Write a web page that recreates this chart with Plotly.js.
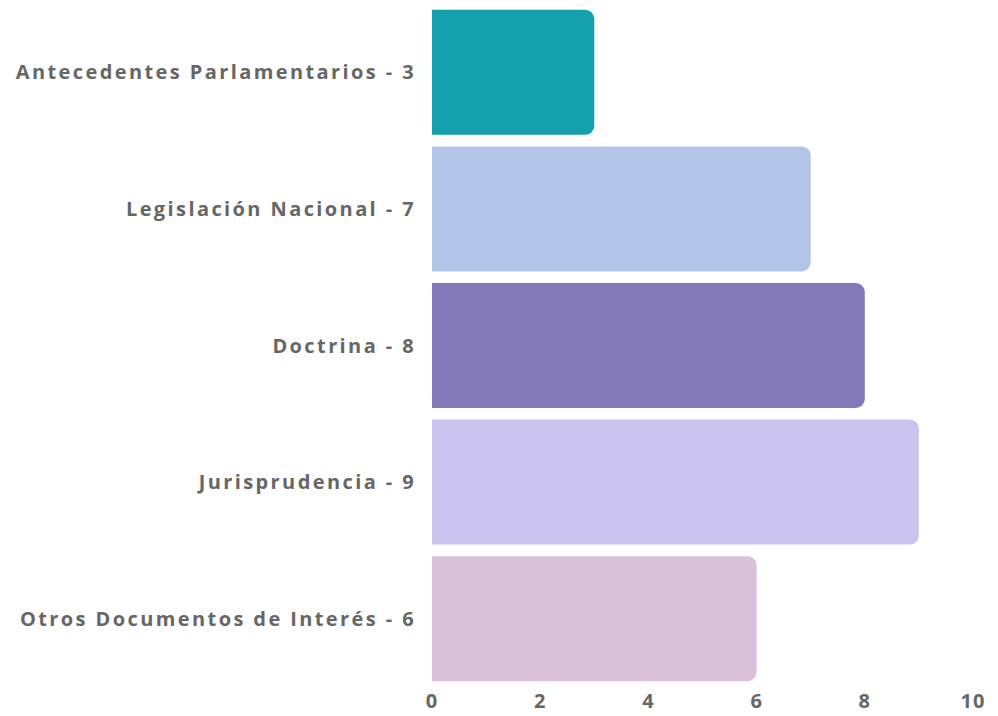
<!DOCTYPE html>
<html>
<head>
<meta charset="utf-8">
<script src="https://cdn.plot.ly/plotly-3.0.1.min.js"></script>
<style>
html,body{margin:0;padding:0;background:#fff;}
#chart{width:998px;height:716px;}
#chart .ytick text{letter-spacing:2.4px;}
#chart .xtick text{letter-spacing:1px;}
</style>
</head>
<body>
<div id="chart"></div>
<script>
const categories = ["Antecedentes Parlamentarios", "Legislación Nacional", "Doctrina", "Jurisprudencia", "Otros Documentos de Interés"];
const values = [3, 7, 8, 9, 6];
const colors = ["#15A0AD", "#B2C5E6", "#8479B8", "#CBC4EE", "#D9C1D9"];
const xTicks = [0, 2, 4, 6, 8, 10];
const labels = categories.map((c, i) => c + " - " + values[i]);

const trace = {
  type: "bar",
  orientation: "h",
  y: categories,
  x: values,
  marker: { color: colors, cornerradius: 9 },
  hoverinfo: "x+y"
};

const layout = {
  width: 998,
  height: 716,
  margin: { l: 432, r: 25, t: 4, b: 29 },
  paper_bgcolor: "#ffffff",
  plot_bgcolor: "#ffffff",
  bargap: 0.085,
  showlegend: false,
  font: { family: "Open Sans, sans-serif", color: "#666666" },
  xaxis: {
    range: [0, 10],
    tickvals: xTicks,
    ticktext: xTicks.map(String),
    showgrid: false,
    zeroline: false,
    showline: false,
    ticks: "",
    tickfont: { family: "Open Sans, sans-serif", size: 20, color: "#666666", weight: 700 }
  },
  yaxis: {
    type: "category",
    autorange: "reversed",
    tickvals: categories,
    ticktext: labels,
    showgrid: false,
    zeroline: false,
    showline: false,
    ticks: "outside",
    ticklen: 11,
    tickcolor: "rgba(0,0,0,0)",
    tickfont: { family: "Open Sans, sans-serif", size: 20, color: "#666666", weight: 700 }
  }
};

Plotly.newPlot("chart", [trace], layout, { displayModeBar: false, staticPlot: true });
</script>
</body>
</html>
